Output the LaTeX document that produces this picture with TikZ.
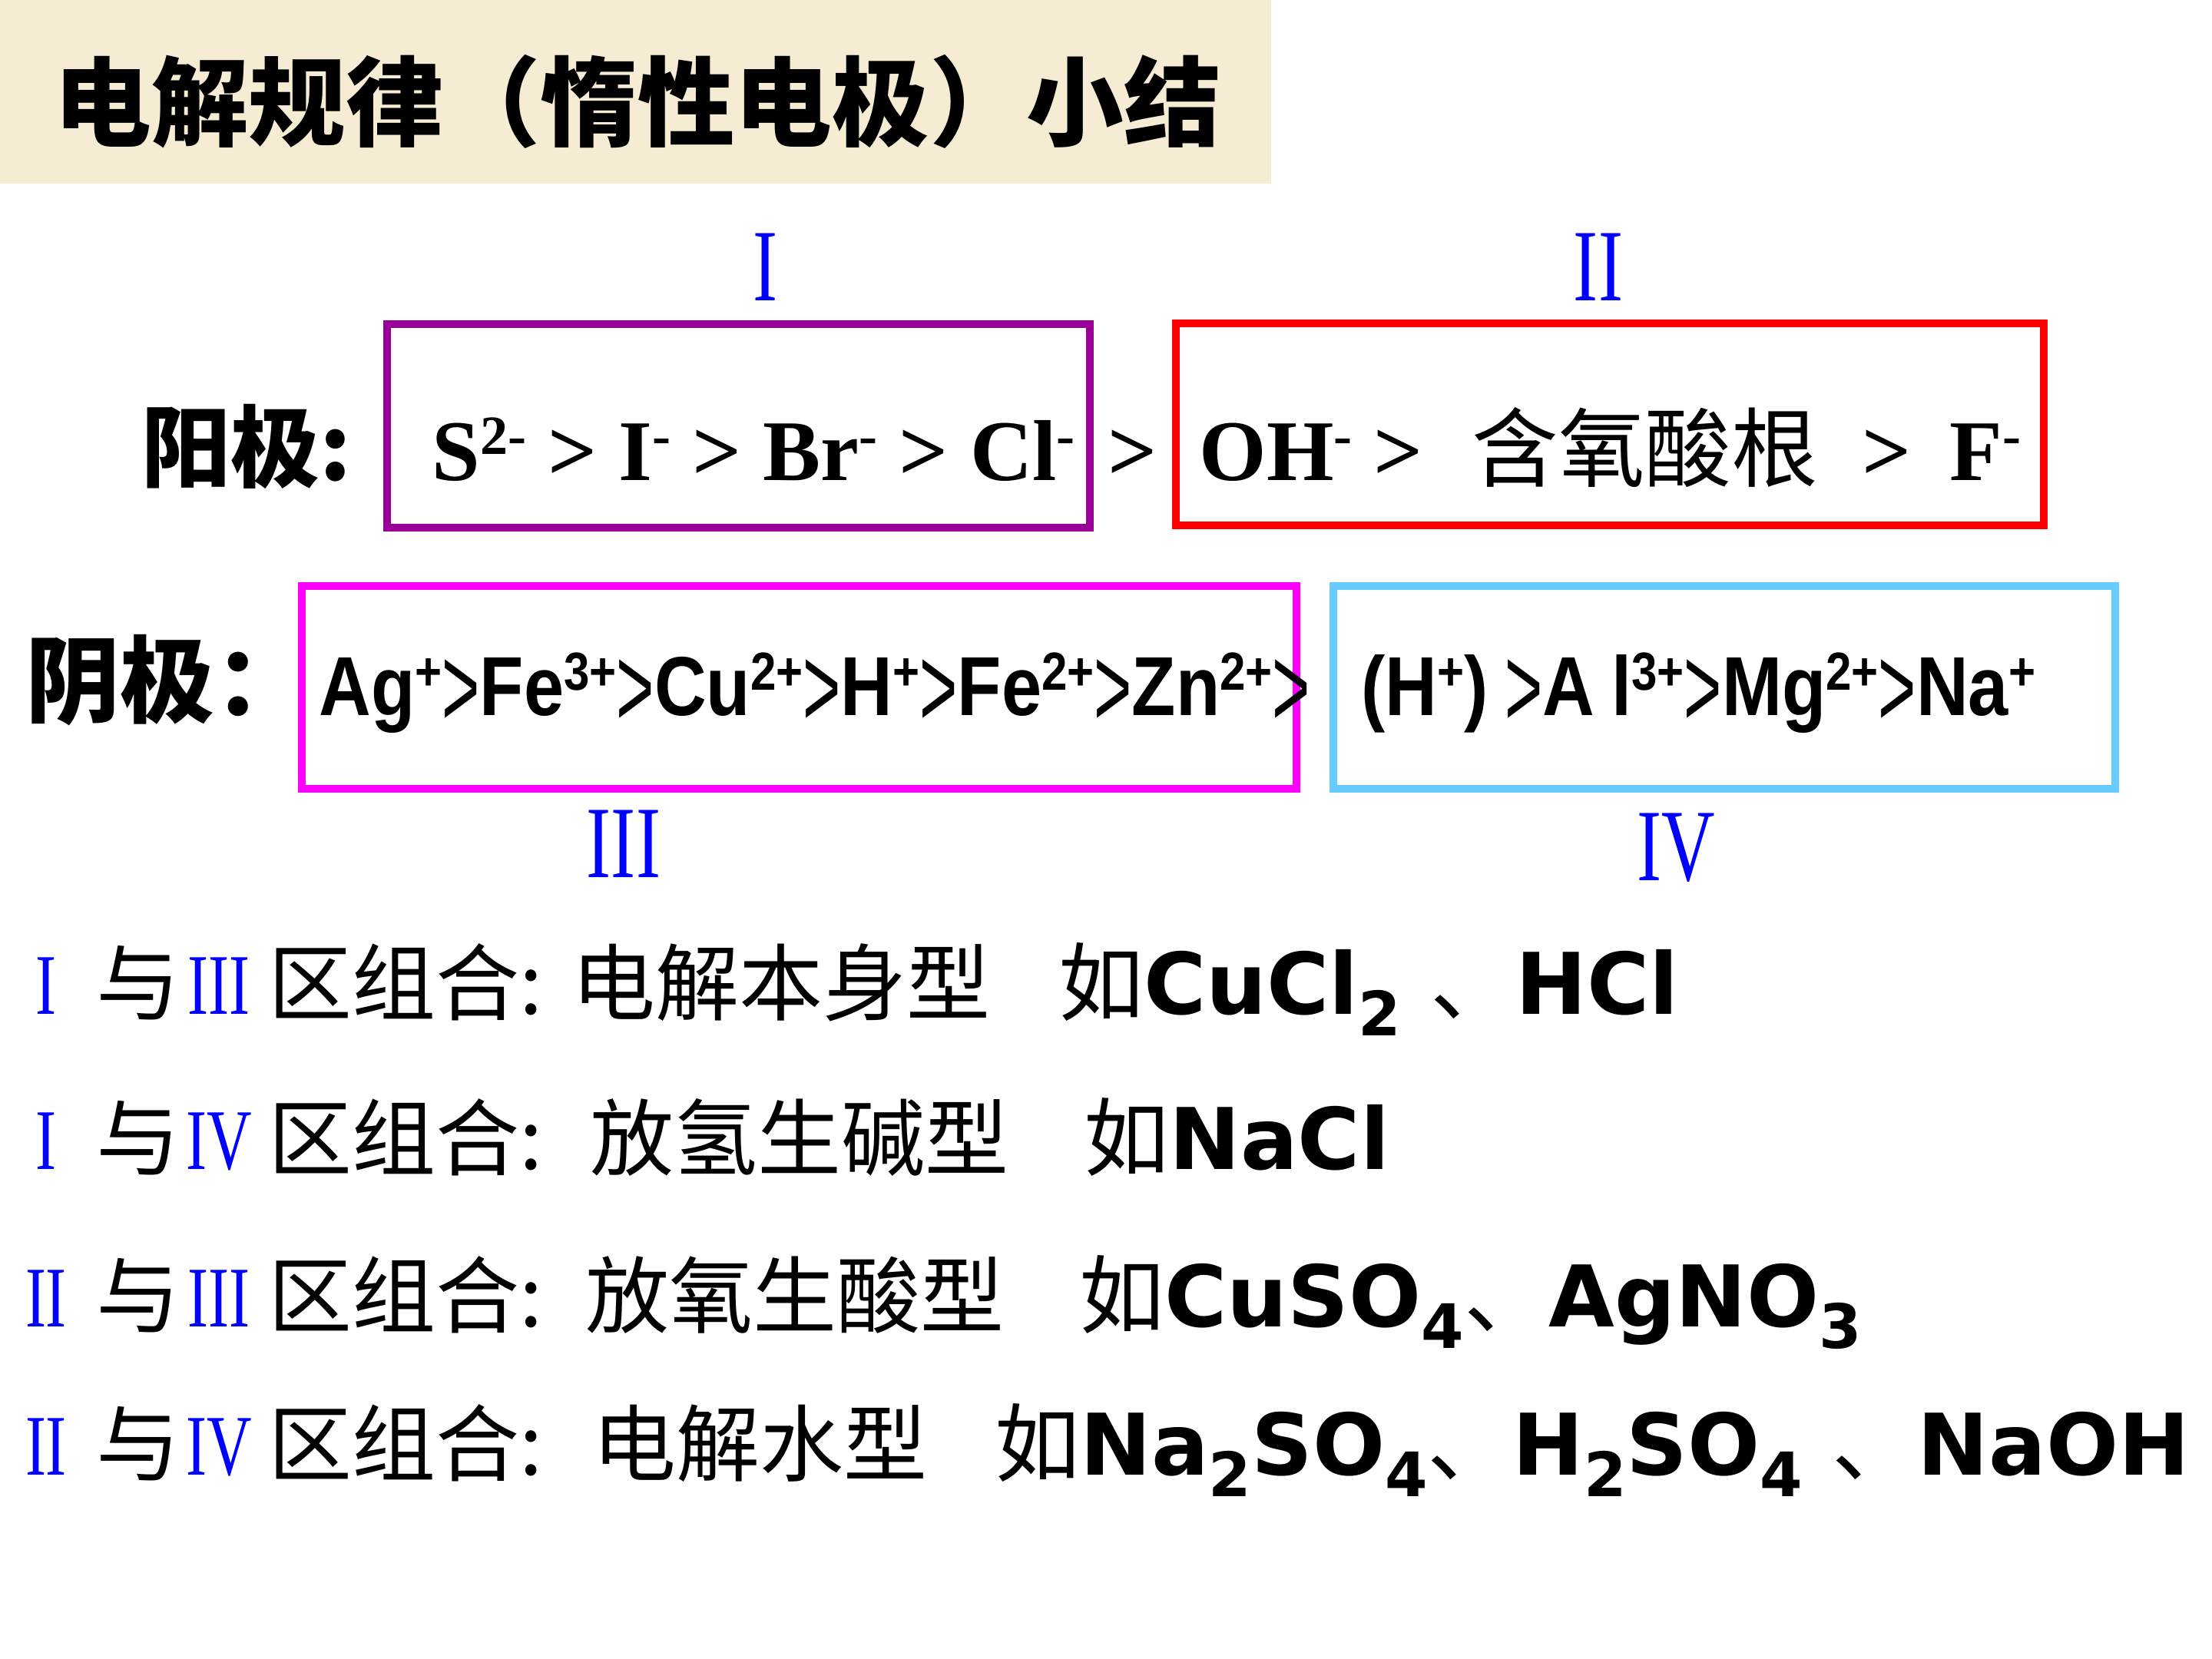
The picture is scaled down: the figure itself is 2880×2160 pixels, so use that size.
\documentclass[tikz,border=0pt]{standalone}
\usepackage{fontspec}
\usepackage{graphicx}
\setmainfont{Liberation Serif}
\newfontfamily\cjk{Noto Sans CJK SC}
\newfontfamily\ionfont{Liberation Serif}
\newfontfamily\narrowfont[FakeStretch=0.86]{Liberation Sans}
\newfontfamily\numfont[FakeStretch=0.72]{Liberation Serif}
\newfontfamily\formfont{DejaVu Sans}

\definecolor{titlebg}{RGB}{246,236,211}
\definecolor{zoneI}{RGB}{153,0,153}
\definecolor{zoneII}{RGB}{255,0,0}
\definecolor{zoneIII}{RGB}{255,0,255}
\definecolor{zoneIV}{RGB}{102,204,255}
\definecolor{numblue}{RGB}{0,0,255}

\newcommand\chg[1]{\raisebox{0.3em}{\scalebox{0.64}{#1}}}
\newcommand\sbs[1]{\raisebox{-0.26em}{\scalebox{0.72}{#1}}}
\newcommand\cgt{\raisebox{-0.14em}{\scalebox{0.9}[1.38]{\mdseries >}}}
\newcommand\zh[1]{{\cjk\mdseries #1}}

\begin{document}
\begin{tikzpicture}[x=0.01cm, y=-0.01cm,
  every node/.style={inner sep=0pt, anchor=base west},
  zone/.style={line width=3.1pt},
  num/.style={font=\numfont\fontsize{38}{44}\selectfont, text=numblue, anchor=base},
  rownum/.style={font=\numfont\fontsize{32}{38}\selectfont, text=numblue, anchor=base},
  cn/.style={font=\cjk\fontsize{31}{37}\selectfont},
  anode/.style={font=\ionfont\bfseries\fontsize{32}{39}\selectfont},
  cath/.style={font=\narrowfont\bfseries\fontsize{31}{37}\selectfont},
  eg/.style={font=\formfont\bfseries\fontsize{31.5}{37}\selectfont}]
\useasboundingbox (0,0) rectangle (2880,2160);
\fill[white] (0,0) rectangle (2880,2160);
%title
\fill[titlebg] (0,0) rectangle (1655,239);
\path (70,180) node[font=\cjk\bfseries\fontsize{36}{43}\selectfont] (title) {电解规律（惰性电极）小结};

%zones
\draw[zone, zoneI] (504,422) rectangle (1419,687);
\draw[zone, zoneII] (1531,421) rectangle (2661,684);
\draw[zone, zoneIII] (393,763) rectangle (1688,1027);
\draw[zone, zoneIV] (1736,763) rectangle (2754,1027);
\path (997,391) node[num] (zI) {I};
\path (2081,391) node[num] (zII) {II};
\path (812,1142) node[num] (zIII) {III};
\path (2182,1146) node[num] (zIV) {IV};

%anode
\path (184,625) node[font=\cjk\bfseries\fontsize{33}{39}\selectfont] (anode) {阳极:};
\path (562,625) node[anode] (ionsA) {S\chg{2-} > I\chg{-} > Br\chg{-} > Cl\chg{-}};
\path (1442,625) node[anode] (gtA) {>};
\path (1561,625) node[anode] (ionOH) {OH\chg{-} >};
\path (1916,625) node[cn, font=\cjk\fontsize{32}{38}\selectfont] (oxo) {含氧酸根};
\path (2424,625) node[anode] (gtF) {>};
\path (2538,625) node[anode] (ionF) {F\chg{-}};

%cathode
\path (33,931) node[font=\cjk\bfseries\fontsize{35}{42}\selectfont] (cathode) {阴极：};
\path (415,931) node[cath] (cathA) {Ag\chg{+}\cgt Fe\chg{3+}\cgt Cu\chg{2+}\cgt H\chg{+}\cgt Fe\chg{2+}\cgt Zn\chg{2+}\cgt};
\path (1772,931) node[cath] (cathB) {(H\chg{+})\hspace{0.2em}\cgt A\hspace{0.2em}l\chg{3+}\cgt Mg\chg{2+}\cgt Na\chg{+}};

%combinations
\foreach \y/\p/\q [count=\r] in {1320/I/III, 1522/I/IV, 1727/II/III, 1920/II/IV}{
  \path (60,\y) node[rownum] (p\r) {\p};
  \path (125,\y) node[cn] (w\r) {与};
  \path (285,\y) node[rownum] (q\r) {\q};
  \path (349,\y) node[cn] (z\r) {区组合:};
}
\path (744,1320) node[cn] (t1) {电解本身型};
\path (768,1522) node[cn] (t2) {放氢生碱型};
\path (762,1727) node[cn] (t3) {放氧生酸型};
\path (771,1920) node[cn] (t4) {电解水型};
\path (1378,1320) node[eg] (e1) {\zh{如}CuCl\sbs{2} \zh{、}HCl};
\path (1411,1522) node[eg] (e2) {\zh{如}NaCl};
\path (1405,1727) node[eg] (e3) {\zh{如}CuSO\sbs{4}\zh{、}AgNO\sbs{3}};
\path (1295,1920) node[eg] (e4) {\zh{如}Na\sbs{2}SO\sbs{4}\zh{、}H\sbs{2}SO\sbs{4} \zh{、}NaOH};
\end{tikzpicture}
\end{document}
